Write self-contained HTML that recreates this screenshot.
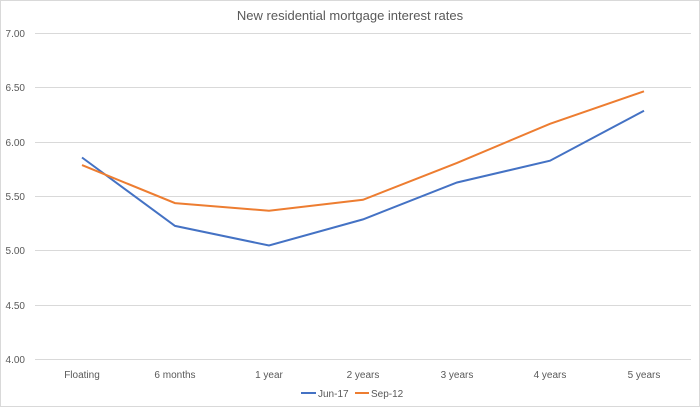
<!DOCTYPE html><html><head><style>body{margin:0;background:#fff}</style></head><body>
<svg width="700" height="407" xmlns="http://www.w3.org/2000/svg" font-family="Liberation Sans, sans-serif">
<rect x="0.5" y="0.5" width="699" height="406" fill="#fff" stroke="#d9d9d9"/>
<text x="350" y="20" text-anchor="middle" font-size="13" fill="#595959">New residential mortgage interest rates</text>
<g stroke="#d9d9d9" stroke-width="1">
<line x1="35" x2="691" y1="33.5" y2="33.5"/><line x1="35" x2="691" y1="87.5" y2="87.5"/><line x1="35" x2="691" y1="142.5" y2="142.5"/><line x1="35" x2="691" y1="196.5" y2="196.5"/><line x1="35" x2="691" y1="250.5" y2="250.5"/><line x1="35" x2="691" y1="305.5" y2="305.5"/><line x1="35" x2="691" y1="359.5" y2="359.5"/>
</g>
<g font-size="10" fill="#595959" text-anchor="end">
<text x="25" y="37">7.00</text><text x="25" y="91">6.50</text><text x="25" y="146">6.00</text><text x="25" y="200">5.50</text><text x="25" y="254">5.00</text><text x="25" y="309">4.50</text><text x="25" y="363">4.00</text>
</g>
<g font-size="10" fill="#595959" text-anchor="middle">
<text x="82" y="378">Floating</text><text x="175" y="378">6 months</text><text x="269" y="378">1 year</text><text x="363" y="378">2 years</text><text x="457" y="378">3 years</text><text x="550" y="378">4 years</text><text x="644" y="378">5 years</text>
</g>
<polyline fill="none" stroke="#4472c4" stroke-width="2" points="82,157.5 175,225.9 269,245.5 363,219.4 457,182.5 550,160.7 644,110.7"/>
<polyline fill="none" stroke="#ed7d31" stroke-width="2" points="82,165.1 175,203.1 269,210.7 363,199.8 457,162.9 550,123.8 644,91.3"/>
<line x1="301" x2="316" y1="393" y2="393" stroke="#4472c4" stroke-width="2"/>
<text x="318" y="397" font-size="10" fill="#595959">Jun-17</text>
<line x1="355" x2="369" y1="393" y2="393" stroke="#ed7d31" stroke-width="2"/>
<text x="371" y="397" font-size="10" fill="#595959">Sep-12</text>
</svg>
</body></html>
